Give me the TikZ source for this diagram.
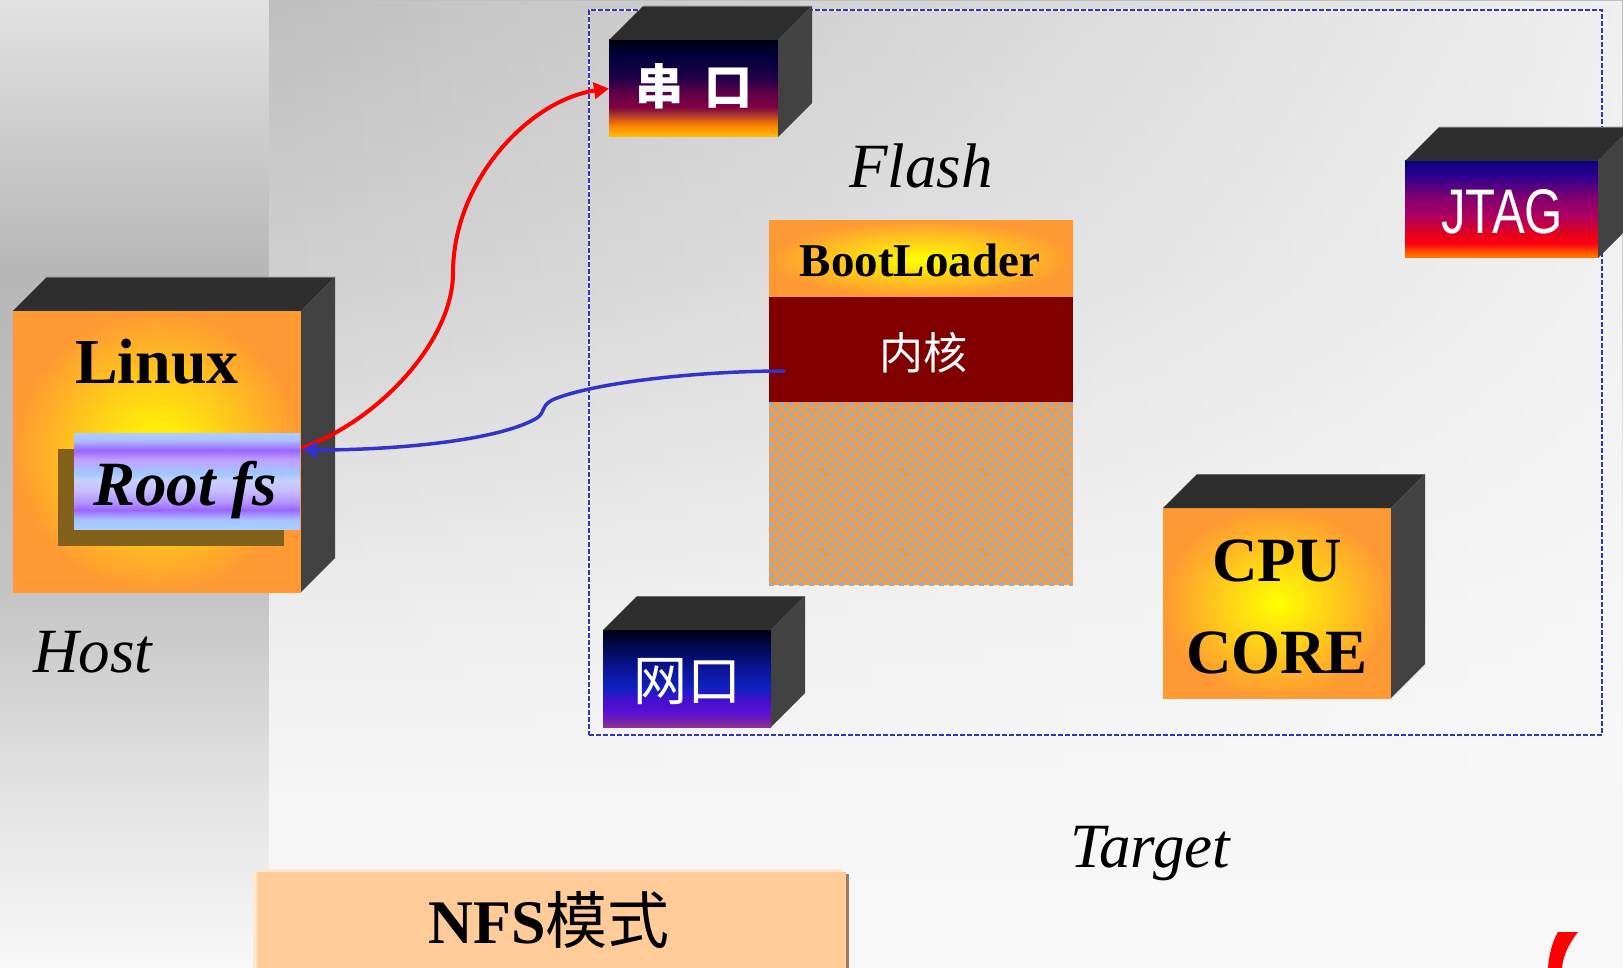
\documentclass[tikz,border=0pt]{standalone}
\usepackage{graphicx}
\usepackage{fontspec}
\setmainfont{Liberation Serif}
\newfontfamily\cjk{Noto Sans CJK SC}
\newfontfamily\sansf{Liberation Sans}
\usetikzlibrary{arrows.meta,fadings}

\definecolor{topgray}{HTML}{2E2E2E}
\definecolor{sidegray}{HTML}{424242}
\definecolor{edgegray}{HTML}{6A6A6A}
\definecolor{orangeA}{HTML}{FF9933}
\definecolor{kernred}{HTML}{800000}
\definecolor{patorange}{HTML}{FF9933}
\definecolor{patgray}{HTML}{AAAAAA}
\definecolor{shadowbrown}{HTML}{83601B}
\definecolor{tblue}{HTML}{3333CC}
\definecolor{nfsfill}{HTML}{FFCC99}
\definecolor{nfslight}{HTML}{FFE8D2}
\definecolor{nfsdark}{HTML}{9C7C5C}
\definecolor{bgwhite}{HTML}{F8F8F8}
% background greys
\definecolor{lA}{HTML}{F8F8F8}\definecolor{lB}{HTML}{E4E4E4}\definecolor{lC}{HTML}{C4C4C4}
\definecolor{lD}{HTML}{BEBEBE}\definecolor{lE}{HTML}{B7B7B7}\definecolor{lF}{HTML}{E2E2E2}
\definecolor{mA}{HTML}{F9F9F9}\definecolor{mB}{HTML}{F6F6F6}\definecolor{mC}{HTML}{ECECEC}
\definecolor{mD}{HTML}{D0D0D0}\definecolor{mE}{HTML}{BFBFBF}
% serial
\definecolor{sA}{HTML}{FFC000}\definecolor{sB}{HTML}{FF9000}\definecolor{sC}{HTML}{E06010}
\definecolor{sD}{HTML}{A03030}\definecolor{sE}{HTML}{800040}\definecolor{sF}{HTML}{600048}
\definecolor{sG}{HTML}{1C0048}\definecolor{sH}{HTML}{000038}\definecolor{sI}{HTML}{000010}
% jtag
\definecolor{jA}{HTML}{FF8000}\definecolor{jB}{HTML}{FF6000}\definecolor{jC}{HTML}{FF0010}
\definecolor{jD}{HTML}{E00020}\definecolor{jE}{HTML}{B00060}\definecolor{jF}{HTML}{800070}
\definecolor{jG}{HTML}{300090}\definecolor{jH}{HTML}{0A0080}
% net
\definecolor{nA}{HTML}{903090}\definecolor{nB}{HTML}{7020B0}\definecolor{nC}{HTML}{6010D0}
\definecolor{nD}{HTML}{4010D0}\definecolor{nE}{HTML}{1020C0}\definecolor{nF}{HTML}{0A1490}
\definecolor{nG}{HTML}{000850}\definecolor{nH}{HTML}{000010}
% root fs
\definecolor{rA}{HTML}{A8D0FF}\definecolor{rB}{HTML}{A8C0FF}\definecolor{rC}{HTML}{9A66FF}
\definecolor{rD}{HTML}{B090FF}\definecolor{rE}{HTML}{C8C0FF}\definecolor{rF}{HTML}{C8D0FF}
\definecolor{rG}{HTML}{A0C8FF}\definecolor{rH}{HTML}{C0A0FF}\definecolor{rI}{HTML}{9966FF}
\definecolor{rJ}{HTML}{B0C0FF}

\pgfdeclareverticalshading{leftbg}{100bp}{color(0bp)=(lA); color(25bp)=(lA); color(33.7bp)=(lB);
  color(44.5bp)=(lC); color(51.8bp)=(lD); color(61bp)=(lE); color(75bp)=(lF); color(100bp)=(lF)}
\pgfdeclareverticalshading{mainbg}{100bp}{color(0bp)=(mA); color(25bp)=(mA); color(33.7bp)=(mB);
  color(44.5bp)=(mC); color(60.5bp)=(mD); color(75bp)=(mE); color(100bp)=(mE)}
\pgfdeclareverticalshading{serialsh}{100bp}{color(0bp)=(sA); color(25bp)=(sA); color(30bp)=(sB);
  color(33.5bp)=(sC); color(37bp)=(sD); color(40.5bp)=(sE); color(47.5bp)=(sF); color(56bp)=(sG);
  color(68bp)=(sH); color(75bp)=(sI); color(100bp)=(sI)}
\pgfdeclareverticalshading{jtagsh}{100bp}{color(0bp)=(jA); color(25bp)=(jA); color(27.5bp)=(jB);
  color(32.5bp)=(jC); color(38bp)=(jD); color(46.5bp)=(jE); color(56.5bp)=(jF); color(67bp)=(jG);
  color(75bp)=(jH); color(100bp)=(jH)}
\pgfdeclareverticalshading{netsh}{100bp}{color(0bp)=(nA); color(25bp)=(nA); color(28.5bp)=(nB);
  color(32bp)=(nC); color(39bp)=(nD); color(45.5bp)=(nE); color(56bp)=(nF); color(66.5bp)=(nG);
  color(75bp)=(nH); color(100bp)=(nH)}
\pgfdeclareverticalshading{rootsh}{100bp}{color(0bp)=(rA); color(25bp)=(rA); color(30bp)=(rB);
  color(35bp)=(rC); color(38.5bp)=(rD); color(45.5bp)=(rE); color(50.5bp)=(rF); color(54bp)=(rG);
  color(61bp)=(rH); color(66bp)=(rI); color(71.5bp)=(rJ); color(75bp)=(rA); color(100bp)=(rA)}

\tikzfading[name=fadeR, left color=transparent!100, right color=transparent!15]

\newcommand\sidesof[1]{%
  \fill[topface] (#1.north west) -- ++(34,-34) -- ([shift={(34,-34)}]#1.north east) -- (#1.north east) -- cycle;
  \fill[sideface] (#1.north east) -- ++(34,-34) -- ([shift={(34,-34)}]#1.south east) -- (#1.south east) -- cycle;
  \draw[edgegray, line width=0.8pt] ([shift={(34,-34)}]#1.north west) -- ([shift={(34,-34)}]#1.north east);
}

\begin{document}
\begin{tikzpicture}[x=1pt,y=-1pt,
  front/.style={inner sep=0pt,outer sep=0pt,draw=none},
  topface/.style={fill=topgray},
  sideface/.style={fill=sidegray},
  txt/.style={inner sep=0pt,outer sep=0pt,anchor=base},
  wtxt/.style={inner sep=0pt,outer sep=0pt,text=white},
  bigbf/.style={font=\bfseries\fontsize{63}{70}\selectfont},
  bigit/.style={font=\itshape\fontsize{63}{70}\selectfont},
  redcon/.style={draw=red,line width=4pt,-{Triangle[length=15pt,width=16pt]}},
  bluecon/.style={draw=tblue,line width=3.5pt,-{Triangle[length=15pt,width=16pt]}}]
\useasboundingbox (0,0) rectangle (1623,968);
% background
\shade[shading=leftbg] (0,0) rectangle (269,968);
\shade[shading=mainbg] (269,0) rectangle (1623,968);
\fill[bgwhite, path fading=fadeR] (269,0) rectangle (1623,968);

% target frame
\node[front, minimum width=1013pt, minimum height=725pt, draw=white, line width=2.5pt] (frameb) at (1095.5,372.5) {};
\node[front, minimum width=1013pt, minimum height=725pt, draw=tblue, line width=2.5pt, dash pattern=on 5pt off 2pt] (frame) at (1095.5,372.5) {};

% Host: Linux box
\node[front, minimum width=288pt, minimum height=281pt, inner color=yellow, outer color=orangeA] (linux) at (157,451.5) {};
\sidesof{linux}
\node[txt, font=\bfseries\fontsize{64}{70}\selectfont] (linuxt) at (157,383) {Linux};
\fill[shadowbrown] (58,449) rectangle (284,546);
\node[front, minimum width=226pt, minimum height=96pt, shade, shading=rootsh] (rootfs) at (187,481) {};
\node[txt, font=\bfseries\itshape\fontsize{63}{70}\selectfont] (rootfst) at (185,505) {Root fs};
\node[txt, bigit] (host) at (93,672) {Host};

% serial port
\node[front, minimum width=169pt, minimum height=97pt, shade, shading=serialsh] (serial) at (693.5,88.5) {};
\sidesof{serial}
\node[wtxt, font=\cjk\bfseries\fontsize{48}{54}\selectfont] (serialt) at (694,86) {串\hspace{22pt}口};

% flash
\node[txt, bigit] (flash) at (921,188) {Flash};
\node[front, minimum width=304pt, minimum height=76pt, inner color=yellow, outer color=orangeA] (boot) at (921,259) {};
\node[txt, font=\bfseries\fontsize{47}{52}\selectfont] (boott) at (920,277) {BootLoader};
\node[front, minimum width=304pt, minimum height=105pt, fill=kernred] (kernel) at (921,349.5) {};
\node[wtxt, font=\cjk\fontsize{44}{50}\selectfont] (kernelt) at (923,353) {内核};
\node[front, minimum width=304pt, minimum height=183pt, fill=patorange] (freepart) at (921,493.5) {};
\begin{scope}
  \clip (freepart.north west) rectangle (freepart.south east);
  \foreach \i in {0,2,...,36}
    \draw[patgray, line width=5pt, dash pattern=on 5pt off 5pt] (769,{404.5+5*\i}) -- (1073,{404.5+5*\i});
  \foreach \i in {1,3,...,35}
    \draw[patgray, line width=5pt, dash pattern=on 5pt off 5pt, dash phase=5pt] (769,{404.5+5*\i}) -- (1073,{404.5+5*\i});
\end{scope}

% JTAG
\node[front, minimum width=193pt, minimum height=97pt, shade, shading=jtagsh] (jtag) at (1501.5,209.5) {};
\sidesof{jtag}
\node[wtxt, font=\sansf\fontsize{63}{70}\selectfont] (jtagt) at (1502,212) {\scalebox{0.78}[1]{JTAG}};

% net port
\node[front, minimum width=168pt, minimum height=97pt, shade, shading=netsh] (net) at (687,678.5) {};
\sidesof{net}
\node[wtxt, font=\cjk\fontsize{54}{60}\selectfont] (nett) at (687,682) {网口};

% CPU core
\node[front, minimum width=228pt, minimum height=190pt, inner color=yellow, outer color=orangeA] (cpu) at (1277,603) {};
\sidesof{cpu}
\node[txt, bigbf] (cput) at (1277,581) {CPU};
\node[txt, bigbf] (coret) at (1277,673) {CORE};

\node[txt, bigit] (target) at (1150,867) {Target};

% NFS label
\fill[nfslight] (253,869) rectangle (842,968);
\fill[nfsdark] (260,874) rectangle (849,968);
\node[front, minimum width=589pt, minimum height=100pt, fill=nfsfill, anchor=north west] (nfs) at (257,872) {};
\node[txt, font=\fontsize{62}{68}\selectfont] (nfst) at (549,943) {{\bfseries NFS}{\cjk 模式}};

% red fragment bottom right
\fill[red] (1558,932) -- (1578,932) .. controls (1570,942) and (1563,955) .. (1562,968)
  -- (1548,968) .. controls (1549,955) and (1552,942) .. (1558,932) -- cycle;

% connectors
\draw[redcon] ([shift={(2,-33)}]rootfs.east) .. controls (380,420) and (453,340) .. (453,273)
  .. controls (453,180) and (530,100) .. (serial.west);
\draw[bluecon] ([shift={(16,21.5)}]kernel.west) .. controls (700,371) and (600,382) .. (557,398)
  .. controls (540,404) and (546,412) .. (537,418)
  .. controls (500,440) and (400,450) .. ([shift={(2,-31)}]rootfs.east);
\end{tikzpicture}
\end{document}
